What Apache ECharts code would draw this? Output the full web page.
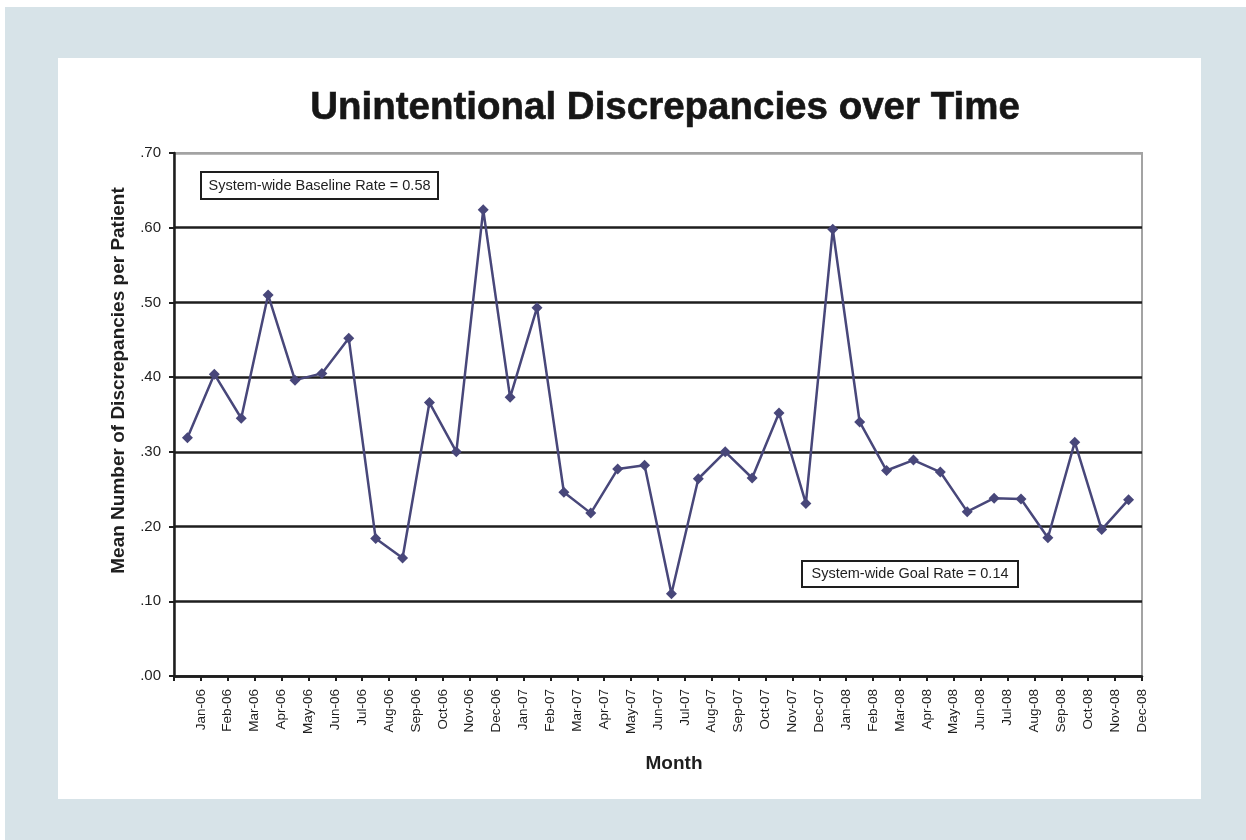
<!DOCTYPE html>
<html>
<head>
<meta charset="utf-8">
<title>Unintentional Discrepancies over Time</title>
<script src="https://cdn.jsdelivr.net/npm/echarts@6/dist/echarts.min.js"></script>
<style>
  html, body { margin: 0; padding: 0; background: #ffffff; }
  #frame { position: absolute; left: 5px; top: 7px; width: 1241px; height: 833px; background: #d7e3e8; }
  #panel { position: absolute; left: 58px; top: 58px; width: 1143px; height: 741px; background: #ffffff; }
  #chart { position: absolute; left: 0; top: 0; width: 1246px; height: 840px; }
</style>
</head>
<body>
<div id="frame"></div>
<div id="panel"></div>
<div id="chart"></div>
<script>
// Monthly categories, Jan 2006 – Dec 2008
const months = [
  'Jan-06','Feb-06','Mar-06','Apr-06','May-06','Jun-06','Jul-06','Aug-06','Sep-06','Oct-06','Nov-06','Dec-06',
  'Jan-07','Feb-07','Mar-07','Apr-07','May-07','Jun-07','Jul-07','Aug-07','Sep-07','Oct-07','Nov-07','Dec-07',
  'Jan-08','Feb-08','Mar-08','Apr-08','May-08','Jun-08','Jul-08','Aug-08','Sep-08','Oct-08','Nov-08','Dec-08'
];

// Mean number of unintentional discrepancies per patient, one value per month
const meanDiscrepancies = [
  0.319, 0.404, 0.345, 0.510, 0.396, 0.405, 0.452, 0.184, 0.158, 0.366, 0.300, 0.624,
  0.373, 0.493, 0.246, 0.218, 0.277, 0.282, 0.110, 0.264, 0.300, 0.265, 0.352, 0.231,
  0.598, 0.340, 0.275, 0.289, 0.273, 0.220, 0.238, 0.237, 0.185, 0.313, 0.196, 0.236
];

// Y-axis tick labels, from 0 up to 0.70 in steps of 0.10
const yTickLabels = ['.00', '.10', '.20', '.30', '.40', '.50', '.60', '.70'];

// Month labels sit on the category boundaries (tick marks), so a blank leads the list
const boundaryLabels = [''].concat(months);

const annotations = {
  baseline: 'System-wide Baseline Rate = 0.58',
  goal: 'System-wide Goal Rate = 0.14'
};

const chart = echarts.init(document.getElementById('chart'), null, { renderer: 'canvas' });

const baseFont = "'Liberation Sans', Arial, sans-serif";
const ink = '#1e1e1e';

function noteBox(x, y, w, h, text) {
  return {
    type: 'group',
    left: x, top: y,
    z: 20,
    children: [
      { type: 'rect', shape: { x: 0, y: 0, width: w, height: h },
        style: { fill: '#ffffff', stroke: ink, lineWidth: 2 } },
      { type: 'text', x: w / 2, y: h / 2,
        style: { text: text, fill: ink, font: '14.5px ' + baseFont, align: 'center', verticalAlign: 'middle' } }
    ]
  };
}

chart.setOption({
  backgroundColor: 'transparent',
  animation: false,
  title: {
    text: 'Unintentional Discrepancies over Time',
    left: 660,
    top: 84,
    textAlign: 'center',
    textStyle: { fontFamily: baseFont, fontWeight: 'bold', fontSize: 38.5, color: '#161616',
                 textBorderColor: '#161616', textBorderWidth: 0.6 }
  },
  grid: {
    left: 174, right: 104, top: 153, bottom: 164,
    show: true,
    borderColor: '#a3a3a3',
    borderWidth: 2,
    backgroundColor: 'transparent'
  },
  xAxis: [
    {
      type: 'category',
      data: months,
      boundaryGap: true,
      position: 'bottom',
      axisLine: { show: true, lineStyle: { color: ink, width: 2.5 } },
      axisTick: { show: false },
      axisLabel: { show: false },
      splitLine: { show: false },
      name: 'Month',
      nameLocation: 'middle',
      nameGap: 78,
      nameTextStyle: { fontFamily: baseFont, fontWeight: 'bold', fontSize: 19, color: ink, padding: [0, 0, 0, 32] }
    },
    {
      type: 'category',
      data: boundaryLabels,
      boundaryGap: false,
      position: 'bottom',
      axisLine: { show: false },
      axisTick: { show: true, inside: false, length: 5, alignWithLabel: true, interval: 0,
                  lineStyle: { color: ink, width: 2 } },
      axisLabel: { show: true, interval: 0, rotate: 90, margin: 13,
                   fontFamily: baseFont, fontSize: 13.5, color: ink },
      splitLine: { show: false }
    }
  ],
  yAxis: {
    type: 'value',
    min: 0,
    max: 0.7,
    interval: 0.1,
    axisLine: { show: true, lineStyle: { color: ink, width: 2.5 } },
    axisTick: { show: true, length: 5, lineStyle: { color: ink, width: 2 } },
    axisLabel: {
      margin: 13,
      fontFamily: baseFont, fontSize: 15, color: ink,
      formatter: function (v) { return yTickLabels[Math.round(v * 10)]; }
    },
    splitLine: {
      show: true,
      lineStyle: {
        width: 2.6,
        color: [ink, ink, ink, ink, ink, ink, ink, '#a3a3a3']
      }
    },
    name: 'Mean Number of Discrepancies per Patient',
    nameLocation: 'middle',
    nameGap: 46,
    nameTextStyle: { fontFamily: baseFont, fontWeight: 'bold', fontSize: 19, color: ink, padding: [0, 0, 0, 68] }
  },
  series: [
    {
      type: 'line',
      xAxisIndex: 0,
      data: meanDiscrepancies,
      symbol: 'diamond',
      symbolSize: 11,
      showAllSymbol: true,
      lineStyle: { color: '#48477a', width: 2.5 },
      itemStyle: { color: '#48477a' },
      z: 10
    }
  ],
  graphic: [
    noteBox(200, 171, 237, 27, annotations.baseline),
    noteBox(801, 560, 216, 26, annotations.goal)
  ]
});
</script>
</body>
</html>
